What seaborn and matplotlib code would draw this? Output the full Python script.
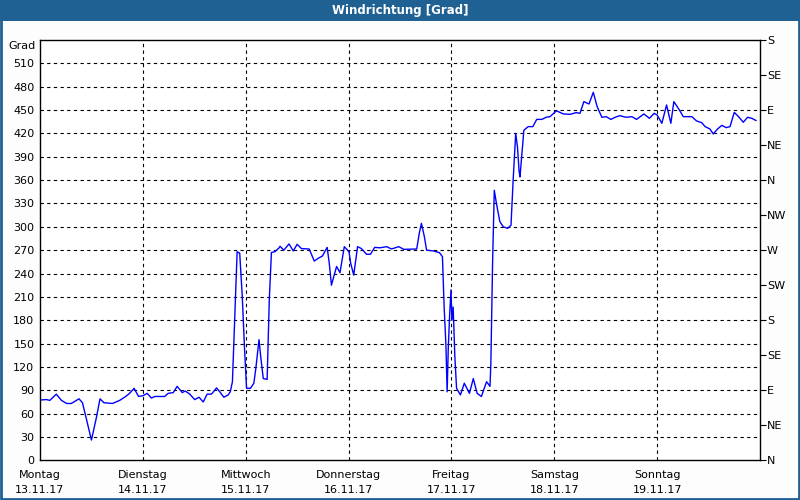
import matplotlib.pyplot as plt
import matplotlib.patches as patches
import numpy as np
import pandas as pd
import seaborn as sns

# wind direction readings (hours since Monday 00:00, degrees)
hours = [
    0.0, 1.5, 2.3, 3.8, 5.0, 6.2, 7.3, 9.1, 9.9, 10.7, 12.0, 13.2, 14.0, 14.9,
    16.9, 18.6, 20.0, 20.9, 21.95, 23.0, 24.05, 25.0, 26.0, 26.8, 29.1, 29.9,
    31.1, 32.0, 33.2, 33.9, 34.95, 36.1, 37.1, 38.1, 39.0, 40.0, 41.2, 41.95,
    42.9, 43.9, 44.4, 44.9, 45.3, 46.0, 46.6, 47.2, 47.7, 48.2, 49.1, 49.9,
    50.4, 51.1, 51.5, 52.1, 53.0, 53.5, 54.0, 54.8, 55.8,
    56.0, 56.9, 58.1, 59.1, 60.0, 61.0, 62.8, 64.0, 64.9, 65.9, 67.0, 67.5,
    68.0, 69.2, 70.0, 71.0, 72.1, 72.5, 73.2, 74.1, 75.0, 76.2, 77.1, 78.1,
    79.3, 80.9, 82.0, 83.7, 84.9, 87.9, 88.5, 89.0, 89.7, 90.2, 91.8, 93.2,
    93.9, 94.3, 94.7, 95.0, 95.25, 95.6, 95.9, 96.1, 96.4, 96.8, 97.2, 98.1,
    99.0, 100.2, 101.1, 102.0, 103.0, 104.2, 105.0, 105.2, 105.6, 106.0,
    106.5, 107.3, 108.1, 109.1, 109.9, 110.4, 111.0, 111.4, 111.8,
    112.0, 112.4, 112.9, 113.9, 115.0, 115.9, 117.1, 118.1, 119.0, 120.5,
    122.1, 123.7, 125.1, 126.0, 126.9, 128.1, 129.1, 130.0, 131.1, 132.1,
    133.2, 134.2, 135.3, 136.7, 138.1, 139.2, 140.9, 142.2, 143.3, 144.0,
    145.1, 146.2, 147.2, 147.9, 149.2, 150.1, 152.1, 153.2, 154.4, 155.2,
    156.3, 157.1, 158.1, 159.1, 160.1, 161.0, 162.0, 163.0, 164.1, 165.1,
    166.1, 167.1,
]
grad = [
    77.5, 78, 77, 85, 77, 73, 73, 79, 74, 56, 26, 56, 79, 74,
    73, 77, 82, 86, 92.5, 82, 83, 86, 80, 82, 82, 86,
    87, 95, 87, 89, 85, 78, 81, 75, 85, 85, 93, 88,
    81, 84, 88, 101, 163, 268, 266, 210, 146, 92.5, 92.5, 99,
    120, 155, 133, 105, 104, 206, 267, 268, 273,
    275, 270, 278, 269, 277.5, 272, 271.5, 256, 259.5, 262.5, 273.6, 253,
    225, 249, 241, 274.5, 268, 253, 238, 274.5, 272, 264.7, 264.7, 273.6,
    273, 274.5, 271.5, 274.5, 271, 271.5, 291.6, 304.5, 287, 270, 269, 266.8,
    261.7, 197, 150, 88, 141.8, 189, 219, 180, 197, 133, 92.5, 84,
    99, 86, 105, 86, 82, 101, 95, 124.6, 253, 347,
    330, 306.6, 300, 298, 302, 360, 420, 403, 371,
    364, 390, 424, 428.7, 428.7, 438, 438, 440.7, 441.5, 449,
    445, 444.5, 446.7, 445.8, 460.8, 457.8, 472.8, 454.4, 440.7, 441.5,
    438, 440.7, 442.8, 440.7, 441.5, 438, 445, 439.4, 445.8, 443.6,
    433, 456.5, 433, 460.8, 450, 441.5, 441.5, 436, 433.8, 428.7,
    425.7, 419.3, 425.7, 430.4, 427.4, 428.7, 447, 441.5, 434.3, 440.7,
    439.4, 436.4,
]

day_names = ["Montag", "Dienstag", "Mittwoch", "Donnerstag", "Freitag", "Samstag", "Sonntag"]
day_dates = ["13.11.17", "14.11.17", "15.11.17", "16.11.17", "17.11.17", "18.11.17", "19.11.17"]
compass = ["N", "NE", "E", "SE", "S", "SW", "W", "NW", "N", "NE", "E", "SE", "S"]

sns.set_style("white")
plt.rcParams["font.family"] = ["DejaVu Sans"]
plt.rcParams["font.size"] = 8
plt.rcParams["text.color"] = "black"
plt.rcParams["xtick.color"] = "black"
plt.rcParams["ytick.color"] = "black"
plt.rcParams["xtick.labelcolor"] = "black"
plt.rcParams["ytick.labelcolor"] = "black"

df = pd.DataFrame({"tag": np.array(hours) / 24.0, "grad": grad})

fig = plt.figure(figsize=(8, 5), dpi=100, facecolor="#fcfdfc")
blue = "#1e6192"

# title bar and frame
fig.patches.append(patches.Rectangle((0, 0.959), 1, 0.041, transform=fig.transFigure,
                                     facecolor=blue, edgecolor="none", zorder=0))
fig.patches.append(patches.Rectangle((0.0015, 0.003), 0.997, 0.99, transform=fig.transFigure,
                                     facecolor="none", edgecolor=blue, linewidth=2, zorder=0))
fig.text(0.5, 0.979, "Windrichtung [Grad]", color="white", fontweight="bold",
         ha="center", va="center", fontsize=8.5)

ax = fig.add_axes([0.05, 0.0794, 0.90, 0.8406])
ax.set_facecolor("white")
sns.lineplot(data=df, x="tag", y="grad", ax=ax, color="#0000ff", linewidth=1.0)

ax.set_xlim(0, 7)
ax.set_ylim(0, 540)
ax.set_xlabel("")
ax.set_ylabel("")

# grid
for yv in range(30, 540, 30):
    ax.axhline(yv, color="black", linestyle=(0, (3, 3)), linewidth=0.8, zorder=0)
for xv in range(1, 7):
    ax.axvline(xv, color="black", linestyle=(0, (3, 3)), linewidth=0.8, zorder=0)

ax.set_yticks(range(0, 540, 30))
ax.tick_params(axis="y", length=0, pad=4, labelsize=8)
ax.set_xticks(range(0, 7))
ax.set_xticklabels([f"{n}\n{d}" for n, d in zip(day_names, day_dates)], linespacing=1.6)
ax.tick_params(axis="x", length=4, width=0.8, direction="out", pad=3, labelsize=8)
ax.text(-0.006, 532, "Grad", transform=ax.get_yaxis_transform(), ha="right", va="center", fontsize=8)

for s in ax.spines.values():
    s.set_color("black")
    s.set_linewidth(1.0)

ax2 = ax.twinx()
ax2.set_ylim(0, 540)
ax2.set_yticks(range(0, 541, 45))
ax2.set_yticklabels(compass)
ax2.tick_params(axis="y", length=4, width=0.8, direction="out", pad=1, labelsize=8)
for s in ax2.spines.values():
    s.set_visible(False)

fig.savefig("out.png", dpi=100, facecolor=fig.get_facecolor())
